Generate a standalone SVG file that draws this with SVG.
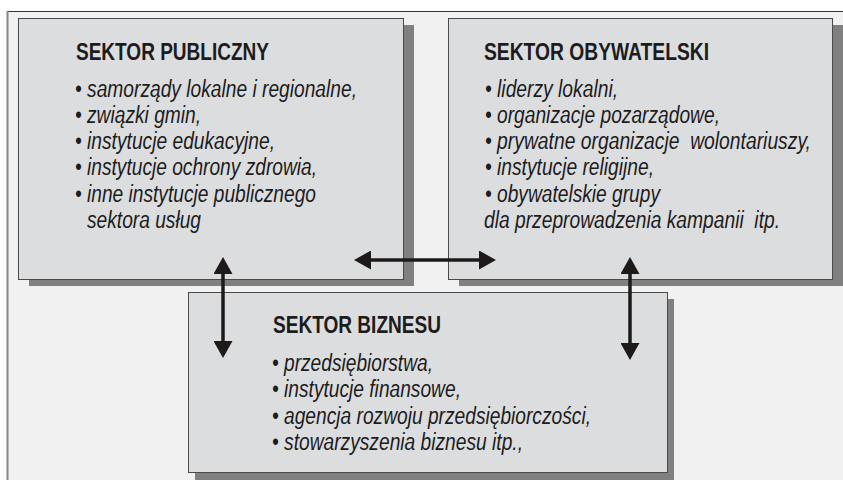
<svg xmlns="http://www.w3.org/2000/svg" width="843" height="480" viewBox="0 0 843 480">
<defs>
<style>
.bg{fill:#f1f1f1}
.sh{fill:#808080}
.bx{fill:#dcdddf;stroke:#4a4a4a;stroke-width:1}
.t{font-family:"Liberation Sans",Arial,sans-serif;font-size:23px;font-style:italic;fill:#1c1c1c}
.h{font-family:"Liberation Sans",Arial,sans-serif;font-size:23px;font-weight:bold;fill:#1c1c1c}
.ar{stroke:#1e1a1a;stroke-width:3.5;fill:none}
</style>
<marker id="ah" viewBox="0 0 17 19" refX="9" refY="9.5" markerWidth="17" markerHeight="19" markerUnits="userSpaceOnUse" orient="auto-start-reverse">
<path d="M0,0 L17,9.5 L0,19 Z" fill="#1e1a1a"/>
</marker>
</defs>
<rect x="0" y="0" width="843" height="480" fill="#ffffff"/>
<rect class="bg" x="8" y="11" width="835" height="469"/>
<line x1="7" y1="11.5" x2="843" y2="11.5" stroke="#333" stroke-width="1"/>
<line x1="7.5" y1="11" x2="7.5" y2="480" stroke="#888" stroke-width="2"/>

<g id="sektor-publiczny">
<rect class="sh" x="29" y="25" width="385" height="261"/>
<rect class="bx" x="18.5" y="18.5" width="385" height="261"/>
<text class="h" transform="matrix(0.835 0 0 1 76 60)" textLength="231.1" lengthAdjust="spacingAndGlyphs">SEKTOR PUBLICZNY</text>
<text class="t" transform="matrix(0.835 0 0 1 75 97)" textLength="337.7" lengthAdjust="spacingAndGlyphs">• samorządy lokalne i regionalne,</text>
<text class="t" transform="matrix(0.835 0 0 1 75 123)" textLength="150.9" lengthAdjust="spacingAndGlyphs">• związki gmin,</text>
<text class="t" transform="matrix(0.835 0 0 1 75 149)" textLength="239.5" lengthAdjust="spacingAndGlyphs">• instytucje edukacyjne,</text>
<text class="t" transform="matrix(0.835 0 0 1 75 175)" textLength="289.8" lengthAdjust="spacingAndGlyphs">• instytucje ochrony zdrowia,</text>
<text class="t" transform="matrix(0.835 0 0 1 75 202)" textLength="288.6" lengthAdjust="spacingAndGlyphs">• inne instytucje publicznego</text>
<text class="t" transform="matrix(0.835 0 0 1 87 228)" textLength="136.5" lengthAdjust="spacingAndGlyphs">sektora usług</text>
</g>

<g id="sektor-obywatelski">
<rect class="sh" x="459" y="25" width="384" height="261"/>
<rect class="bx" x="448.5" y="18.5" width="384" height="261"/>
<text class="h" transform="matrix(0.835 0 0 1 484 60)" textLength="269.5" lengthAdjust="spacingAndGlyphs">SEKTOR OBYWATELSKI</text>
<text class="t" transform="matrix(0.835 0 0 1 485 97)" textLength="159.3" lengthAdjust="spacingAndGlyphs">• liderzy lokalni,</text>
<text class="t" transform="matrix(0.835 0 0 1 485 123)" textLength="281.4" lengthAdjust="spacingAndGlyphs">• organizacje pozarządowe,</text>
<text class="t" transform="matrix(0.835 0 0 1 485 149)" textLength="390.4" lengthAdjust="spacingAndGlyphs">• prywatne organizacje&#160; wolontariuszy,</text>
<text class="t" transform="matrix(0.835 0 0 1 485 175)" textLength="202.4" lengthAdjust="spacingAndGlyphs">• instytucje religijne,</text>
<text class="t" transform="matrix(0.835 0 0 1 485 202)" textLength="209.6" lengthAdjust="spacingAndGlyphs">• obywatelskie grupy</text>
<text class="t" transform="matrix(0.835 0 0 1 484 228)" textLength="354.5" lengthAdjust="spacingAndGlyphs">dla przeprowadzenia kampanii&#160; itp.</text>
</g>

<g id="sektor-biznesu">
<rect class="sh" x="195" y="299" width="479" height="181"/>
<rect class="bx" x="188.5" y="292.5" width="479" height="180"/>
<text class="h" transform="matrix(0.835 0 0 1 273 333)" textLength="201.2" lengthAdjust="spacingAndGlyphs">SEKTOR BIZNESU</text>
<text class="t" transform="matrix(0.835 0 0 1 272 371)" textLength="192.8" lengthAdjust="spacingAndGlyphs">• przedsiębiorstwa,</text>
<text class="t" transform="matrix(0.835 0 0 1 272 397)" textLength="226.3" lengthAdjust="spacingAndGlyphs">• instytucje finansowe,</text>
<text class="t" transform="matrix(0.835 0 0 1 272 424)" textLength="382.0" lengthAdjust="spacingAndGlyphs">• agencja rozwoju przedsiębiorczości,</text>
<text class="t" transform="matrix(0.835 0 0 1 272 450)" textLength="300.6" lengthAdjust="spacingAndGlyphs">• stowarzyszenia biznesu itp.,</text>
</g>

<g id="connectors">
<line class="ar" x1="362" y1="260" x2="488" y2="260" marker-start="url(#ah)" marker-end="url(#ah)"/>
<line class="ar" x1="223" y1="265" x2="223" y2="350" marker-start="url(#ah)" marker-end="url(#ah)"/>
<line class="ar" x1="630" y1="265" x2="630" y2="352" marker-start="url(#ah)" marker-end="url(#ah)"/>
</g>
</svg>
